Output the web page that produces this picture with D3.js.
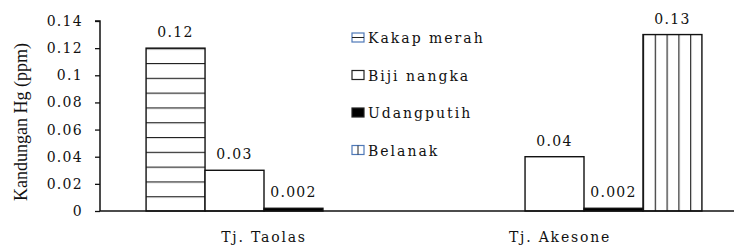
<!DOCTYPE html>
<html>
  <head>
    <meta charset="utf-8">
    <title></title>
    <script type="text/javascript" src="https://d3js.org/d3.v7.min.js"></script>
    <style media="screen">
      body { margin: 0; background: #fff; }
      text { font-family: "DejaVu Serif", "Liberation Serif", serif; fill: #111; }
    </style>
  </head>
  <body>

    <script type="text/javascript">

      // data
      var sites = ["Tj. Taolas", "Tj. Akesone"];
      var species = ["Kakap merah", "Biji nangka", "Udangputih", "Belanak"];
      var kakap = [0.12, null];
      var biji = [0.03, 0.04];
      var udang = [0.002, 0.002];
      var belanak = [null, 0.13];
      var yTicks = [0, 0.02, 0.04, 0.06, 0.08, 0.1, 0.12, 0.14];

      var w = 734;
      var h = 249;
      var padLeft = 100, padTop = 21, base = 211;

      var series = [kakap, biji, udang, belanak];
      var rows = [];
      sites.forEach(function(s, i) {
        species.forEach(function(sp, j) {
          rows.push({site: s, sp: sp, idx: j, value: series[j][i]});
        });
      });

      var svg = d3.select('body')
        .append('svg')
        .attr('width', w)
        .attr('height', h);

      var defs = svg.append('defs');

      var x0 = d3.scaleBand()
        .domain(sites)
        .range([104, 744])
        .paddingInner(0.263)
        .paddingOuter(0.1315);

      var x1 = d3.scaleBand()
        .domain(species)
        .range([0, x0.bandwidth()]);

      var yscale = d3.scaleLinear()
        .domain([0, 0.14])
        .range([base, padTop]);

      // hatch patterns
      var hp = defs.append('pattern')
        .attr('id', 'hLines')
        .attr('patternUnits', 'userSpaceOnUse')
        .attr('width', 10).attr('height', 14.8)
        .attr('y', base);
      hp.append('rect').attr('width', 10).attr('height', 14.8).attr('fill', '#fff');
      hp.append('line').attr('x1', 0).attr('x2', 10).attr('y1', 0.5).attr('y2', 0.5)
        .attr('stroke', '#222').attr('stroke-width', 1.3);

      var vp = defs.append('pattern')
        .attr('id', 'vLines')
        .attr('patternUnits', 'userSpaceOnUse')
        .attr('width', x1.bandwidth() / 5).attr('height', 10)
        .attr('x', x0(sites[1]) + x1(species[3]));
      vp.append('rect').attr('width', x1.bandwidth() / 5).attr('height', 10).attr('fill', '#fff');
      vp.append('line').attr('x1', 0.5).attr('x2', 0.5).attr('y1', 0).attr('y2', 10)
        .attr('stroke', '#222').attr('stroke-width', 1.3);

      var fills = ['url(#hLines)', '#fff', '#000', 'url(#vLines)'];

      var bars = rows.filter(function(d) { return d.value != null; });

      svg.selectAll('rect.bar')
        .data(bars)
        .enter()
        .append('rect')
        .attr('class', 'bar')
        .attr('x', function(d) { return x0(d.site) + x1(d.sp); })
        .attr('y', function(d) { return yscale(d.value); })
        .attr('width', x1.bandwidth())
        .attr('height', function(d) { return base - yscale(d.value); })
        .attr('fill', function(d) { return fills[d.idx]; })
        .attr('stroke', '#111')
        .attr('stroke-width', 1.4);

      svg.selectAll('text.val')
        .data(bars)
        .enter()
        .append('text')
        .attr('class', 'val')
        .attr('x', function(d) { return x0(d.site) + x1(d.sp) + x1.bandwidth() / 2; })
        .attr('y', function(d) { return yscale(d.value) - 11; })
        .attr('text-anchor', 'middle')
        .style('font-size', '14px')
        .style('letter-spacing', '1.3px')
        .text(function(d) { return d.value; });

      // y axis
      var yAxis = d3.axisLeft(yscale)
        .tickValues(yTicks)
        .tickSize(5)
        .tickPadding(12)
        .tickFormat(function(d) { return d; });

      var gy = svg.append('g')
        .attr('class', 'y axis')
        .attr('transform', 'translate(' + padLeft + ',0)')
        .call(yAxis);
      gy.select('.domain').attr('stroke', '#111').attr('stroke-width', 1.5).attr('d', 'M-5,' + padTop + 'H0V' + base);
      gy.selectAll('line').attr('stroke', '#111').attr('stroke-width', 1.3);
      gy.selectAll('text')
        .style('font-size', '14px')
        .style('letter-spacing', '1.3px')
        .style('font-family', '"DejaVu Serif", serif')
        .attr('fill', '#111');

      // x axis
      var xAxis = d3.axisBottom(x0).tickSize(0).tickPadding(21);
      var gx = svg.append('g')
        .attr('class', 'x axis')
        .attr('transform', 'translate(0,' + base + ')')
        .call(xAxis);
      gx.select('.domain').attr('stroke', '#111').attr('stroke-width', 1.3).attr('d', 'M' + padLeft + ',0H' + w);
      gx.selectAll('text')
        .style('font-size', '14px')
        .style('letter-spacing', '1.8px')
        .style('font-family', '"DejaVu Serif", serif')
        .attr('fill', '#111')
        .attr('dx', function(d, i) { return i == 1 ? -24 : 0; });

      svg.append('text')
        .attr('transform', 'translate(' + 27 + ',' + 122 + ')rotate(-90)')
        .attr('text-anchor', 'middle')
        .style('font-family', '"Liberation Serif", serif')
        .style('font-size', '18px')
        .text('Kandungan Hg (ppm)');

      // legend
      var legend = svg.selectAll('g.leg')
        .data(species)
        .enter()
        .append('g')
        .attr('class', 'leg')
        .attr('transform', function(d, i) { return 'translate(352,' + (33 + i * 37.5) + ')'; });

      legend.append('rect')
        .attr('width', 12).attr('height', 9)
        .attr('fill', function(d, i) { return i == 2 ? '#000' : '#fff'; })
        .attr('stroke', function(d, i) { return (i == 0 || i == 3) ? '#4f79b8' : '#222'; })
        .attr('stroke-width', 1.2);
      legend.filter(function(d, i) { return i == 0; })
        .append('line').attr('x1', 0).attr('x2', 12).attr('y1', 4.5).attr('y2', 4.5)
        .attr('stroke', '#222').attr('stroke-width', 1);
      legend.filter(function(d, i) { return i == 3; })
        .append('line').attr('x1', 6).attr('x2', 6).attr('y1', 0).attr('y2', 9)
        .attr('stroke', '#222').attr('stroke-width', 1);

      legend.append('text')
        .attr('x', 16)
        .attr('y', 10)
        .style('font-size', '14px')
        .style('letter-spacing', '2px')
        .text(function(d) { return d; });

    </script>

  </body>
</html>
